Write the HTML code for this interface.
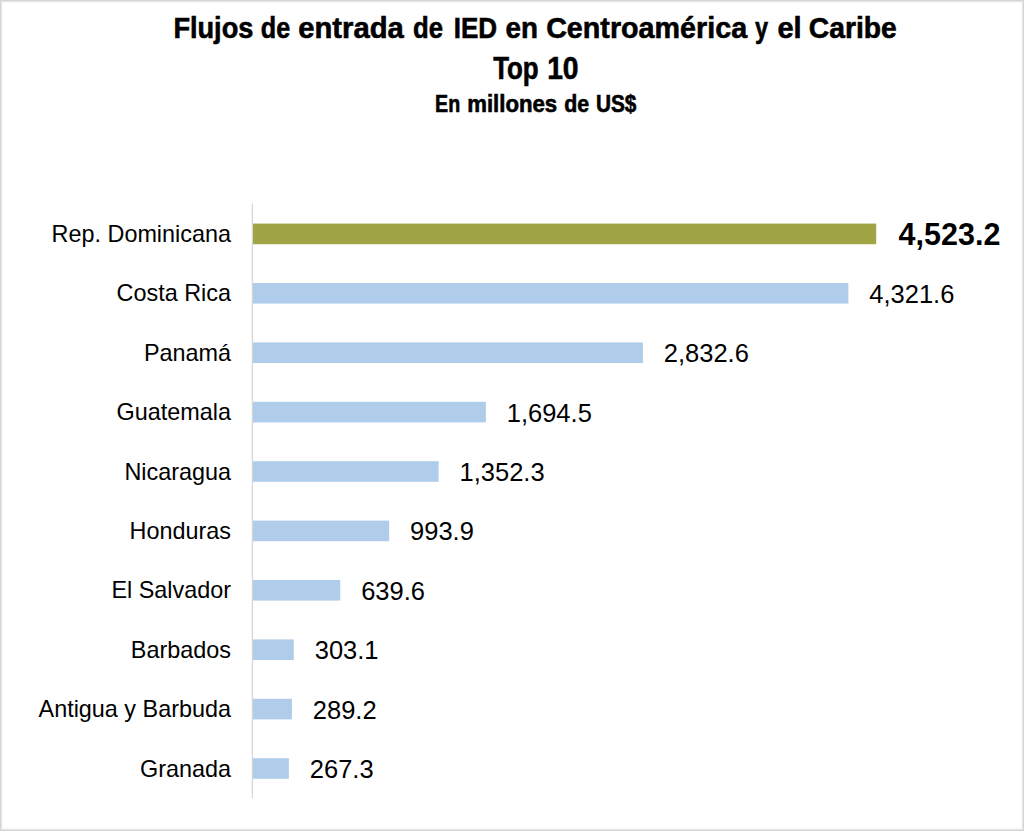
<!DOCTYPE html>
<html><head><meta charset="utf-8"><style>
html,body{margin:0;padding:0;background:#fff;overflow:hidden;}
svg{display:block;}
text{font-family:"Liberation Sans",sans-serif;fill:#000;}
.cat{font-size:23.4px;}
.val{font-size:25.5px;}
.valb{font-size:30.5px;font-weight:bold;}
.t1,.t2,.t3{stroke:#000;stroke-width:0.6px;}
.t1{font-size:30.5px;font-weight:bold;}
.t2{font-size:30.5px;font-weight:bold;}
.t3{font-size:23.5px;font-weight:bold;}
</style></head><body>
<svg width="1024" height="831" viewBox="0 0 1024 831">
<rect x="0.5" y="0.5" width="1023" height="830" fill="#fff" stroke="#D5D5D5" stroke-width="1"/>
<rect x="1.5" y="1.5" width="1021" height="828" fill="none" stroke="#E6E6E6" stroke-width="1"/>
<rect x="2.5" y="2.5" width="1019" height="826" fill="none" stroke="#F8F8F8" stroke-width="1"/>
<text class="t1" transform="translate(173.39 38.3) scale(0.8908 0.975)">Flujos</text>
<text class="t1" transform="translate(260.82 38.3) scale(0.8265 0.975)">de</text>
<text class="t1" transform="translate(298.23 38.3) scale(0.9582 0.975)">entrada</text>
<text class="t1" transform="translate(413.11 38.3) scale(0.8441 0.975)">de</text>
<text class="t1" transform="translate(453.65 38.3) scale(0.8542 0.975)">IED</text>
<text class="t1" transform="translate(505.46 38.3) scale(0.9121 0.975)">en</text>
<text class="t1" transform="translate(546.14 38.3) scale(0.9413 0.975)">Centroamérica</text>
<text class="t1" transform="translate(754.93 38.3) scale(0.7706 0.975)">y</text>
<text class="t1" transform="translate(777.43 38.3) scale(0.9522 0.975)">el</text>
<text class="t1" transform="translate(808.75 38.3) scale(0.9280 0.975)">Caribe</text>
<text class="t2" transform="translate(493.15 78.8) scale(0.8491 1)">Top</text>
<text class="t2" transform="translate(547.13 78.8) scale(0.9258 1)">10</text>
<text class="t3" transform="translate(435.12 111.9) scale(0.8357 1)">En</text>
<text class="t3" transform="translate(467.24 111.9) scale(0.9436 1)">millones</text>
<text class="t3" transform="translate(564.26 111.9) scale(0.9077 1)">de</text>
<text class="t3" transform="translate(595.98 111.9) scale(0.8844 1)">US$</text>
<rect x="252.00" y="223.60" width="624.20" height="20.6" fill="#A0A444"/>
<rect x="252.00" y="283.00" width="596.38" height="20.6" fill="#AFCDEA"/>
<rect x="252.00" y="342.40" width="390.90" height="20.6" fill="#AFCDEA"/>
<rect x="252.00" y="401.80" width="233.84" height="20.6" fill="#AFCDEA"/>
<rect x="252.00" y="461.20" width="186.62" height="20.6" fill="#AFCDEA"/>
<rect x="252.00" y="520.60" width="137.16" height="20.6" fill="#AFCDEA"/>
<rect x="252.00" y="580.00" width="88.26" height="20.6" fill="#AFCDEA"/>
<rect x="252.00" y="639.40" width="41.83" height="20.6" fill="#AFCDEA"/>
<rect x="252.00" y="698.80" width="39.91" height="20.6" fill="#AFCDEA"/>
<rect x="252.00" y="758.20" width="36.89" height="20.6" fill="#AFCDEA"/>
<text class="cat" x="231.0" y="241.90" text-anchor="end">Rep. Dominicana</text>
<text class="valb" x="898.60" y="244.90">4,523.2</text>
<text class="cat" x="231.0" y="301.30" text-anchor="end">Costa Rica</text>
<text class="val" x="869.28" y="302.70">4,321.6</text>
<text class="cat" x="231.0" y="360.70" text-anchor="end">Panamá</text>
<text class="val" x="663.80" y="362.10">2,832.6</text>
<text class="cat" x="231.0" y="420.10" text-anchor="end">Guatemala</text>
<text class="val" x="506.74" y="421.50">1,694.5</text>
<text class="cat" x="231.0" y="479.50" text-anchor="end">Nicaragua</text>
<text class="val" x="459.52" y="480.90">1,352.3</text>
<text class="cat" x="231.0" y="538.90" text-anchor="end">Honduras</text>
<text class="val" x="410.06" y="540.30">993.9</text>
<text class="cat" x="231.0" y="598.30" text-anchor="end">El Salvador</text>
<text class="val" x="361.16" y="599.70">639.6</text>
<text class="cat" x="231.0" y="657.70" text-anchor="end">Barbados</text>
<text class="val" x="314.73" y="659.10">303.1</text>
<text class="cat" x="231.0" y="717.10" text-anchor="end">Antigua y Barbuda</text>
<text class="val" x="312.81" y="718.50">289.2</text>
<text class="cat" x="231.0" y="776.50" text-anchor="end">Granada</text>
<text class="val" x="309.79" y="777.90">267.3</text>
<line x1="252.4" y1="203.5" x2="252.4" y2="798.0" stroke="#D6D6D6" stroke-width="1.3"/>
</svg>
</body></html>
